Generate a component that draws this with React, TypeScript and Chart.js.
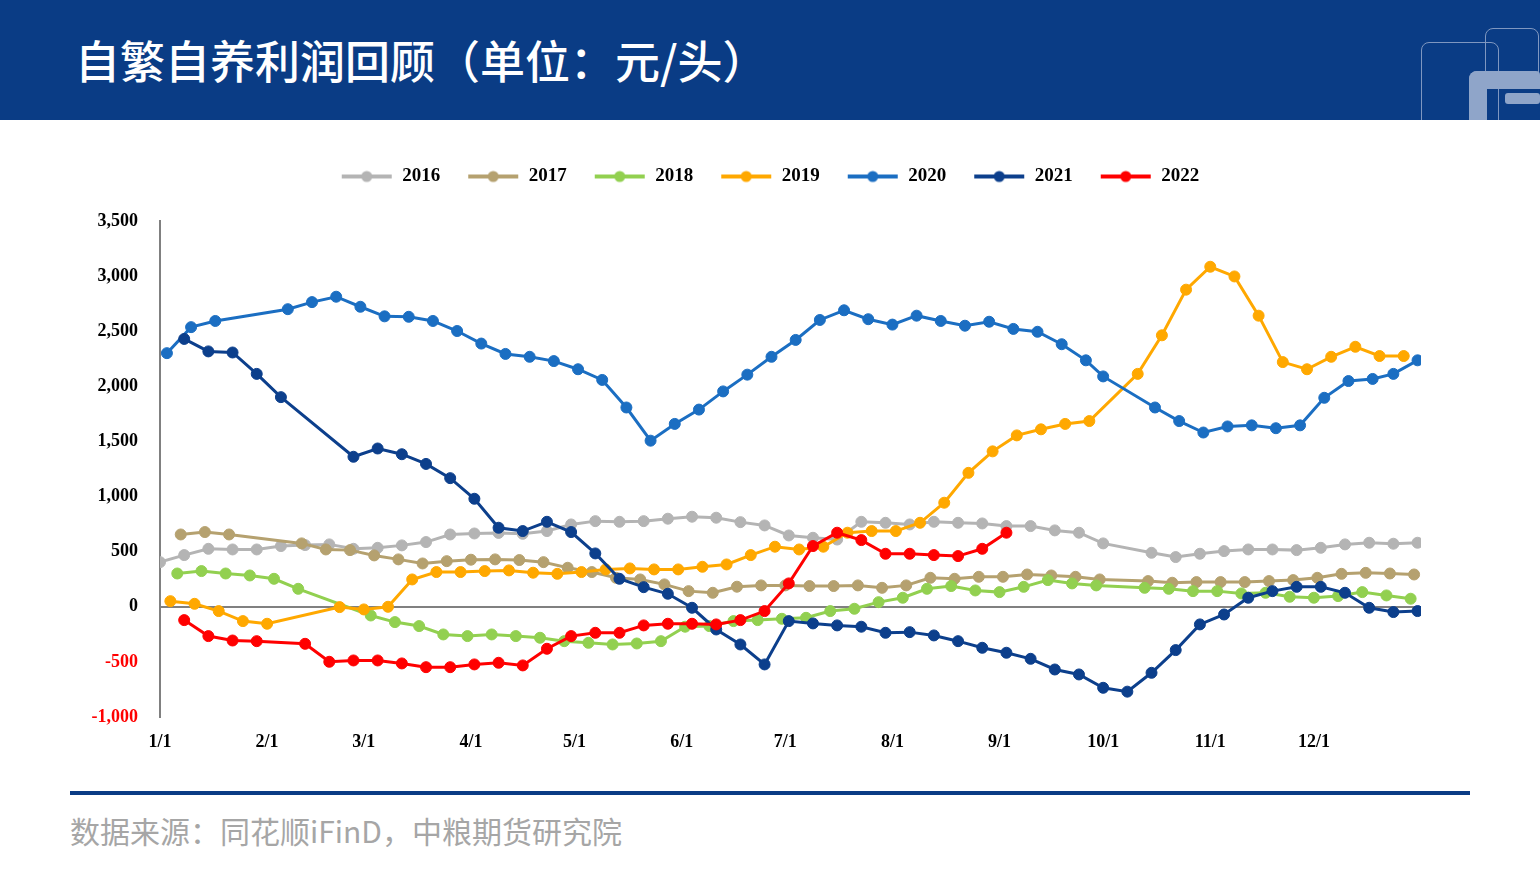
import React, { useEffect, useRef } from 'react';
import { Chart, registerables } from 'chart.js';

Chart.register(...registerables);

// ---- axis categories ----
const MONTH_DAYS = [0, 31, 59, 90, 120, 151, 181, 212, 243, 273, 304, 334];
const MONTH_LABELS = ['1/1', '2/1', '3/1', '4/1', '5/1', '6/1', '7/1', '8/1', '9/1', '10/1', '11/1', '12/1'];
const Y_MIN = -1000;
const Y_MAX = 3500;
const Y_STEP = 500;

// ---- series (day of year, profit 元/头) ----
const DAYS_2016 = [0, 7, 14, 21, 28, 35, 42, 49, 56, 63, 70, 77, 84, 91, 98, 105, 112, 119, 126, 133, 140, 147, 154, 161, 168, 175, 182, 189, 196, 203, 210, 217, 224, 231, 238, 245, 252, 259, 266, 273, 287, 294, 301, 308, 315, 322, 329, 336, 343, 350, 357, 364];
const VAL_2016 = [405, 469, 526, 520, 520, 551, 560, 566, 526, 535, 557, 587, 656, 665, 670, 662, 687, 747, 777, 771, 777, 799, 817, 808, 768, 738, 647, 626, 610, 771, 762, 747, 771, 762, 756, 732, 732, 693, 672, 575, 490, 451, 481, 505, 520, 520, 514, 535, 566, 581, 572, 581];

const DAYS_2017 = [6, 13, 20, 41, 48, 55, 62, 69, 76, 83, 90, 97, 104, 111, 118, 125, 132, 139, 146, 153, 160, 167, 174, 181, 188, 195, 202, 209, 216, 223, 230, 237, 244, 251, 258, 265, 272, 286, 293, 300, 307, 314, 321, 328, 335, 342, 349, 356, 363];
const VAL_2017 = [656, 678, 656, 575, 520, 514, 466, 430, 393, 414, 427, 430, 424, 405, 354, 315, 263, 248, 203, 142, 127, 182, 194, 194, 188, 188, 194, 172, 194, 263, 254, 272, 272, 293, 284, 272, 248, 233, 218, 224, 224, 224, 233, 242, 263, 299, 308, 302, 293];

const DAYS_2018 = [5, 12, 19, 26, 33, 40, 61, 68, 75, 82, 89, 96, 103, 110, 117, 124, 131, 138, 145, 152, 159, 166, 173, 180, 187, 194, 201, 208, 215, 222, 229, 236, 243, 250, 257, 264, 271, 285, 292, 299, 306, 313, 320, 327, 334, 341, 348, 355, 362];
const VAL_2018 = [302, 324, 302, 284, 254, 163, -79, -139, -175, -251, -266, -251, -266, -281, -312, -327, -342, -333, -312, -181, -175, -130, -121, -109, -100, -39, -18, 42, 82, 163, 188, 148, 133, 181, 242, 212, 194, 172, 163, 142, 142, 121, 127, 91, 82, 97, 133, 103, 73];

const DAYS_2019 = [3, 10, 17, 24, 31, 52, 59, 66, 73, 80, 87, 94, 101, 108, 115, 122, 129, 136, 143, 150, 157, 164, 171, 178, 185, 192, 199, 206, 213, 220, 227, 234, 241, 248, 255, 262, 269, 283, 290, 297, 304, 311, 318, 325, 332, 339, 346, 353, 360];
const VAL_2019 = [51, 27, -39, -130, -154, -3, -24, 0, 248, 315, 315, 324, 330, 309, 299, 315, 339, 348, 339, 339, 363, 384, 469, 545, 520, 545, 672, 687, 687, 762, 944, 1215, 1410, 1555, 1610, 1659, 1685, 2113, 2463, 2877, 3085, 2997, 2641, 2220, 2155, 2268, 2359, 2275, 2275];

const DAYS_2020 = [2, 9, 16, 37, 44, 51, 58, 65, 72, 79, 86, 93, 100, 107, 114, 121, 128, 135, 142, 149, 156, 163, 170, 177, 184, 191, 198, 205, 212, 219, 226, 233, 240, 247, 254, 261, 268, 273, 288, 295, 302, 309, 316, 323, 330, 337, 344, 351, 357, 364];
const VAL_2020 = [2301, 2537, 2593, 2700, 2764, 2813, 2722, 2635, 2631, 2593, 2502, 2388, 2294, 2268, 2229, 2155, 2058, 1808, 1507, 1659, 1789, 1954, 2106, 2268, 2421, 2602, 2690, 2609, 2560, 2641, 2593, 2550, 2586, 2521, 2495, 2382, 2236, 2090, 1808, 1685, 1581, 1636, 1646, 1620, 1646, 1896, 2048, 2067, 2113, 2236];

const DAYS_2021 = [7, 14, 21, 28, 35, 56, 63, 70, 77, 84, 91, 98, 105, 112, 119, 126, 133, 140, 147, 154, 161, 168, 175, 182, 189, 196, 203, 210, 217, 224, 231, 238, 245, 252, 259, 266, 273, 280, 287, 294, 301, 308, 315, 322, 329, 336, 343, 350, 357, 364];
const VAL_2021 = [2430, 2317, 2307, 2113, 1902, 1361, 1436, 1384, 1296, 1167, 980, 717, 687, 771, 678, 484, 254, 178, 118, -9, -206, -342, -523, -130, -151, -169, -181, -236, -230, -260, -312, -372, -417, -472, -569, -614, -735, -770, -599, -393, -160, -70, 82, 142, 181, 181, 127, -9, -48, -39];

const DAYS_2022 = [7, 14, 21, 28, 42, 49, 56, 63, 70, 77, 84, 91, 98, 105, 112, 119, 126, 133, 140, 147, 154, 161, 168, 175, 182, 189, 196, 203, 210, 217, 224, 231, 238, 245];
const VAL_2022 = [-121, -266, -306, -312, -336, -499, -487, -487, -514, -548, -548, -523, -508, -532, -381, -266, -236, -236, -169, -154, -154, -160, -121, -39, 212, 551, 672, 605, 481, 481, 469, 460, 526, 672];

const SERIES_LABELS = ['2016', '2017', '2018', '2019', '2020', '2021', '2022'];
const SERIES_DAYS = [DAYS_2016, DAYS_2017, DAYS_2018, DAYS_2019, DAYS_2020, DAYS_2021, DAYS_2022];
const SERIES_VALUES = [VAL_2016, VAL_2017, VAL_2018, VAL_2019, VAL_2020, VAL_2021, VAL_2022];
const SERIES_COLORS = ['#b4b4b4', '#b5a16f', '#92d050', '#ffa800', '#1b6ec2', '#0c3f8c', '#ff0000'];

const TITLE = '自繁自养利润回顾（单位：元/头）';
const SOURCE = '数据来源：同花顺iFinD，中粮期货研究院';

const NAVY = '#0a3c85';
const SERIF = '"Liberation Serif", "Times New Roman", serif';
const LEGEND_GAP = 25;

function makeLegendIcon(color: string): HTMLCanvasElement {
  const c = document.createElement('canvas');
  c.width = 52;
  c.height = 14;
  const g = c.getContext('2d')!;
  g.strokeStyle = color;
  g.lineWidth = 4;
  g.beginPath();
  g.moveTo(1, 7);
  g.lineTo(51, 7);
  g.stroke();
  g.fillStyle = color;
  g.beginPath();
  g.arc(26, 7, 5.5, 0, Math.PI * 2);
  g.fill();
  return c;
}

const legendMargin = {
  id: 'legendMargin',
  beforeInit(chart: any) {
    const legend = chart.legend;
    if (!legend) return;
    const fit = legend.fit;
    legend.fit = function () {
      fit.call(this);
      this.height += LEGEND_GAP;
    };
  },
};

function ProfitChart() {
  const ref = useRef<HTMLCanvasElement | null>(null);

  useEffect(() => {
    if (!ref.current) return;
    const icons = SERIES_COLORS.map(makeLegendIcon);
    const datasets = SERIES_LABELS.map((label, i) => ({
      label,
      data: SERIES_DAYS[i].map((d, k) => ({ x: d, y: SERIES_VALUES[i][k] })),
      borderColor: SERIES_COLORS[i],
      backgroundColor: SERIES_COLORS[i],
      pointBackgroundColor: SERIES_COLORS[i],
      pointBorderColor: SERIES_COLORS[i],
      borderWidth: 3,
      pointRadius: 5.5,
      pointBorderWidth: 1,
      tension: 0,
      fill: false,
      yAxisID: 'y',
      xAxisID: 'x',
      order: SERIES_LABELS.length - 1 - i,
    }));

    const chart = new Chart(ref.current, {
      type: 'line',
      data: { datasets },
      options: {
        animation: false,
        responsive: true,
        maintainAspectRatio: false,
        events: [],
        layout: { padding: 0 },
        plugins: {
          tooltip: { enabled: false },
          legend: {
            display: true,
            position: 'top',
            align: 'center',
            labels: {
              usePointStyle: true,
              pointStyleWidth: 52,
              padding: 27,
              color: '#000000',
              font: { family: SERIF, size: 19, weight: 'bold' },
              sort: (a: any, b: any) => a.datasetIndex - b.datasetIndex,
              generateLabels: () =>
                SERIES_LABELS.map((label, i) => ({
                  text: label,
                  pointStyle: icons[i],
                  fillStyle: SERIES_COLORS[i],
                  strokeStyle: SERIES_COLORS[i],
                  lineWidth: 0,
                  hidden: false,
                  datasetIndex: i,
                  fontColor: '#000000',
                })),
            },
          },
        },
        scales: {
          x: {
            type: 'linear',
            min: 0,
            max: 365,
            grid: { display: false, drawTicks: false },
            border: { display: false },
            afterBuildTicks: (scale: any) => {
              scale.ticks = MONTH_DAYS.map((v) => ({ value: v }));
            },
            afterFit: (scale: any) => {
              scale.height = 63;
            },
            ticks: {
              autoSkip: false,
              maxRotation: 0,
              minRotation: 0,
              padding: 15,
              color: '#000000',
              font: { family: SERIF, size: 18, weight: 'bold' },
              callback: (value: any) => {
                const idx = MONTH_DAYS.indexOf(Number(value));
                return idx >= 0 ? MONTH_LABELS[idx] : '';
              },
            },
          },
          y: {
            type: 'linear',
            position: 'left',
            min: Y_MIN,
            max: Y_MAX,
            grid: {
              display: true,
              drawTicks: false,
              lineWidth: 2,
              color: (ctx: any) => (ctx.tick && ctx.tick.value === 0 ? '#808080' : 'rgba(0,0,0,0)'),
            },
            border: { display: true, color: '#808080', width: 2 },
            afterFit: (scale: any) => {
              scale.width = 160;
            },
            ticks: {
              stepSize: Y_STEP,
              padding: 22,
              color: (ctx: any) => (ctx.tick && ctx.tick.value < 0 ? '#ff0000' : '#000000'),
              font: { family: SERIF, size: 18, weight: 'bold' },
              callback: (value: any) => Number(value).toLocaleString('en-US'),
            },
          },
          yR: {
            type: 'linear',
            position: 'right',
            display: true,
            grid: { display: false, drawTicks: false },
            border: { display: false },
            ticks: { display: false },
            afterFit: (scale: any) => {
              scale.width = 119;
            },
          },
        },
      } as any,
      plugins: [legendMargin],
    });
    return () => chart.destroy();
  }, []);

  return <canvas ref={ref} />;
}

export default function App() {
  return (
    <div
      style={{
        position: 'absolute',
        left: 0,
        top: 0,
        width: 1540,
        height: 875,
        background: '#ffffff',
        overflow: 'hidden',
      }}
    >
      {/* header */}
      <div
        style={{
          position: 'absolute',
          left: 0,
          top: 0,
          width: 1540,
          height: 120,
          background: NAVY,
          overflow: 'hidden',
        }}
      >
        <div
          style={{
            position: 'absolute',
            left: 75,
            top: 0,
            height: 120,
            lineHeight: '120px',
            color: '#ffffff',
            fontFamily: '"Noto Sans CJK SC", sans-serif',
            fontWeight: 500,
            fontSize: 45,
            whiteSpace: 'nowrap',
          }}
        >
          {TITLE}
        </div>
        {/* logo */}
        <div style={{ position: 'absolute', left: 1421, top: 42, width: 78, height: 95, border: '1.5px solid #7f97c0', borderRadius: 8, boxSizing: 'border-box' }} />
        <div style={{ position: 'absolute', left: 1485, top: 28, width: 54, height: 52, border: '1.5px solid #7f97c0', borderRadius: 8, boxSizing: 'border-box' }} />
        <div style={{ position: 'absolute', left: 1469, top: 71, width: 71, height: 18, background: '#8fa5c9', borderTopLeftRadius: 8, borderTopRightRadius: 4 }} />
        <div style={{ position: 'absolute', left: 1469, top: 71, width: 18, height: 60, background: '#8fa5c9', borderTopLeftRadius: 8 }} />
        <div style={{ position: 'absolute', left: 1505, top: 93, width: 35, height: 11, background: '#8fa5c9', borderRadius: 3 }} />
      </div>

      {/* chart */}
      <div style={{ position: 'absolute', left: 0, top: 140, width: 1540, height: 640 }}>
        <ProfitChart />
      </div>

      {/* footer */}
      <div style={{ position: 'absolute', left: 70, top: 791, width: 1400, height: 4, background: NAVY }} />
      <div
        style={{
          position: 'absolute',
          left: 70,
          top: 810,
          lineHeight: '40px',
          fontSize: 30,
          color: '#a6a6a6',
          fontFamily: '"Noto Sans CJK SC", sans-serif',
          fontWeight: 400,
          whiteSpace: 'nowrap',
        }}
      >
        {SOURCE}
      </div>
    </div>
  );
}
